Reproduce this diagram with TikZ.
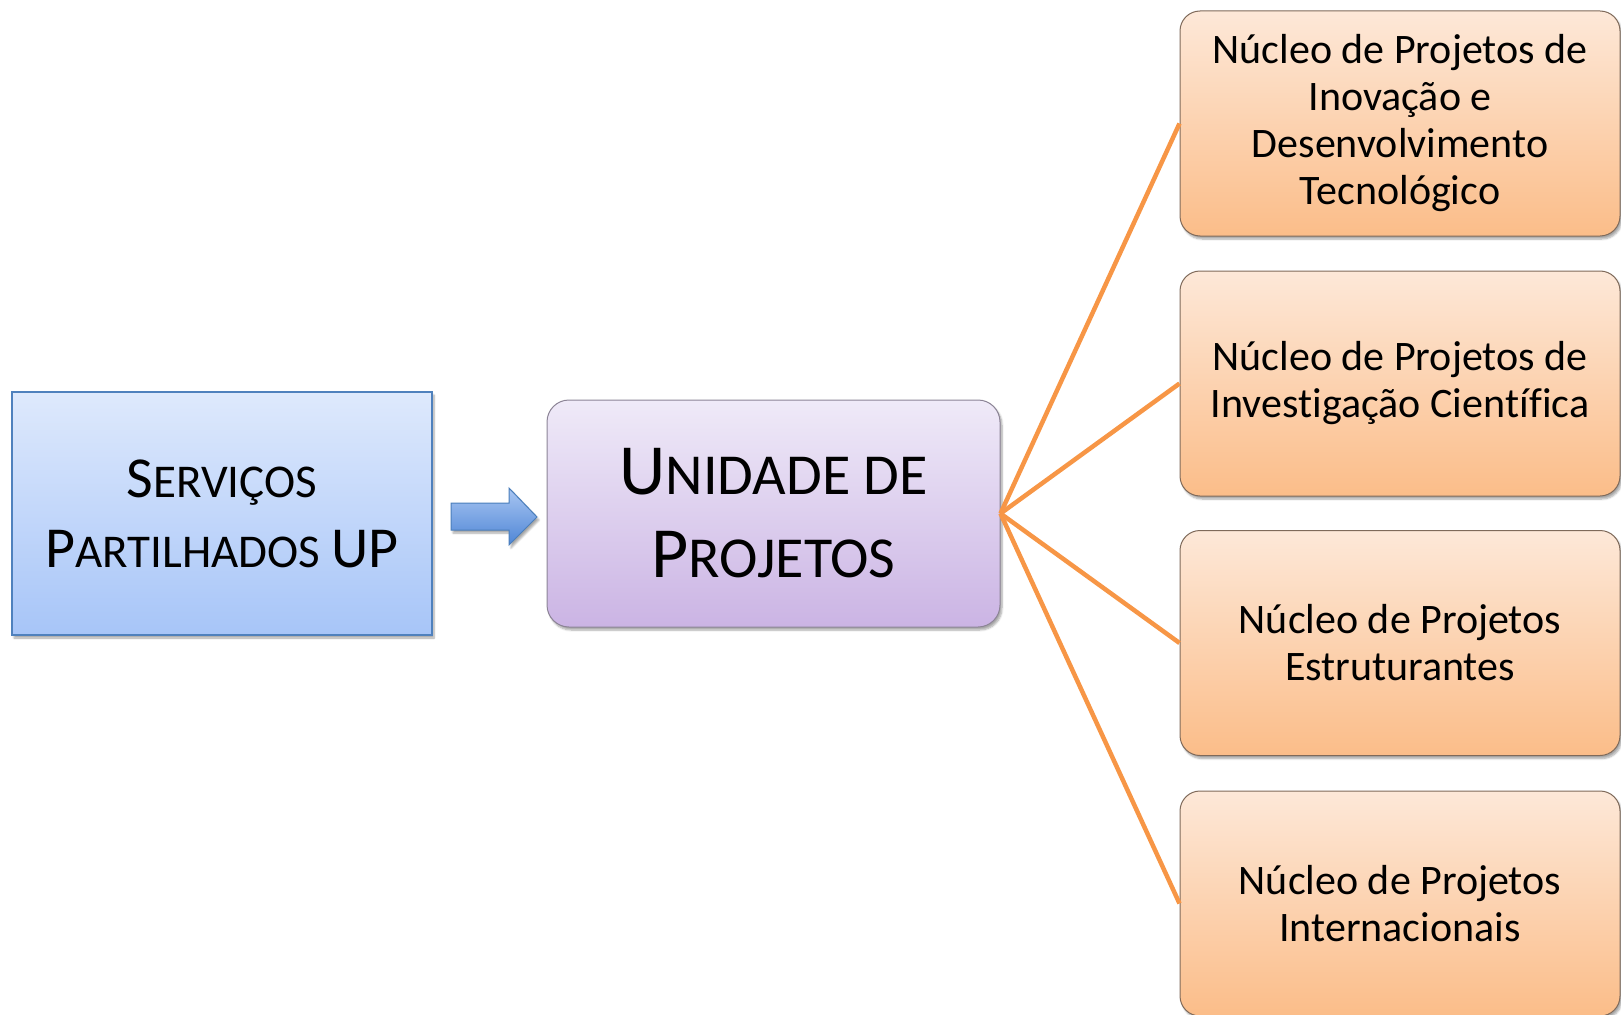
\documentclass[tikz,border=0pt]{standalone}
\usepackage{fontspec}
\setmainfont{Carlito}[Ligatures={NoCommon}]
\usetikzlibrary{shadows.blur}
\definecolor{bluetop}{HTML}{DEE9FC}
\definecolor{bluebot}{HTML}{A7C5F8}
\definecolor{blueline}{HTML}{4F81BD}
\definecolor{purtop}{HTML}{EFEAF8}
\definecolor{purbot}{HTML}{CBB4E4}
\definecolor{purline}{HTML}{8C8496}
\definecolor{ortop}{HTML}{FDE8D8}
\definecolor{orbot}{HTML}{FBBD89}
\definecolor{orline}{HTML}{7F6A5A}
\definecolor{conn}{HTML}{F79646}
\definecolor{arrtop}{HTML}{A9C6F2}
\definecolor{arrbot}{HTML}{4F86D6}
\definecolor{arrline}{HTML}{4A7EBB}
\newcommand\scA[1]{{\fontsize{58}{70}\selectfont #1}}
\newcommand\scB[1]{{\fontsize{72}{83}\selectfont #1}}
\tikzset{
  shad/.style={blur shadow={shadow xshift=2pt, shadow yshift=-3pt, shadow blur steps=6, shadow opacity=35}},
  svcbox/.style={draw=blueline, line width=1.5pt, top color=bluetop, bottom color=bluebot, shad,
    minimum width=420pt, minimum height=243pt, align=center, inner sep=0pt,
    font=\fontsize{47}{70}\selectfont},
  unitbox/.style={draw=purline, line width=1pt, rounded corners=22pt, top color=purtop, bottom color=purbot, shad,
    minimum width=453pt, minimum height=227pt, align=center, inner sep=0pt,
    font=\fontsize{58}{83}\selectfont},
  nucbox/.style={draw=orline, line width=1pt, rounded corners=20pt, top color=ortop, bottom color=orbot, shad,
    minimum width=440pt, minimum height=225pt, align=center, inner sep=0pt,
    font=\fontsize{42}{47}\selectfont},
  link/.style={draw=conn, line width=4.5pt},
  blockarrow/.style={draw=arrline, line width=1pt, top color=arrtop, bottom color=arrbot, shad}
}
\begin{document}
\begin{tikzpicture}[x=1pt,y=-1pt]
\useasboundingbox (0,0) rectangle (1621,1014);
\node[svcbox] (svc) at (222,513.5) {\scA{S}ERVIÇOS\\\scA{P}ARTILHADOS \scA{UP}};
\node[unitbox] (unit) at (773.5,513.5) {\scB{U}NIDADE DE\\\scB{P}ROJETOS};
\node[nucbox] (n1) at (1400,123.5) {Núcleo de Projetos de\\Inovação e\\Desenvolvimento\\Tecnológico};
\node[nucbox] (n2) at (1400,383.5) {Núcleo de Projetos de\\Inves\kern0pt tigação Cien\kern0pt tíf\kern0pt ica};
\node[nucbox] (n3) at (1400,643) {Núcleo de Projetos\\Estruturantes};
\node[nucbox] (n4) at (1400,903.5) {Núcleo de Projetos\\Internacionais};
\path[blockarrow] (451,503) -- (509,503) -- (509,488) -- (537,517) -- (509,545) -- (509,530) -- (451,530) -- cycle;
\coordinate (hub) at (unit.east);
\foreach \n in {n1,n2,n3,n4} \draw[link] (hub) -- (\n.west);
\end{tikzpicture}
\end{document}
